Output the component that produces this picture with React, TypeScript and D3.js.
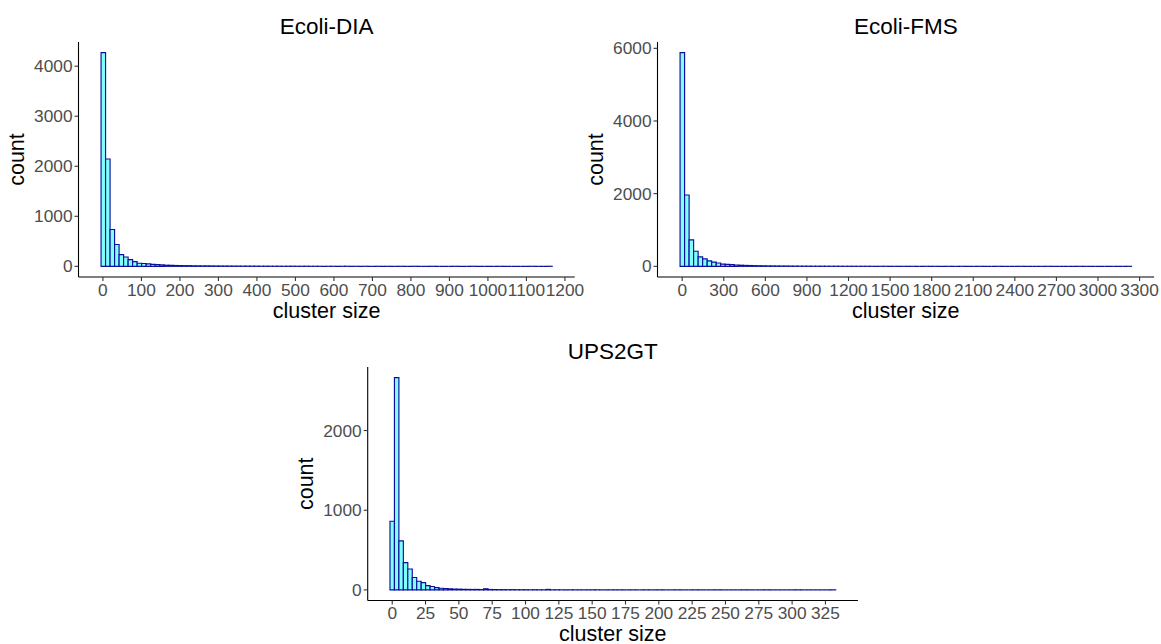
import React from "react";
import * as d3 from "d3";

// Histogram counts, 100 bins each (ggplot bins = 100)
const diaCounts = [
  4270, 2145, 735, 437, 235, 187, 135, 95, 62, 57,
  50, 40, 35, 28, 22, 20, 17, 15, 13, 12,
  10, 9, 8, 8, 7, 6, 6, 5, 5, 4,
  4, 3, 4, 3, 3, 2, 3, 2, 2, 2,
  1, 2, 2, 1, 1, 2, 1, 1, 1, 0,
  1, 1, 0, 1, 1, 0, 1, 0, 1, 0,
  0, 1, 0, 1, 0, 0, 1, 0, 0, 1,
  0, 0, 0, 1, 0, 0, 0, 0, 1, 0,
  0, 0, 1, 0, 0, 0, 0, 0, 1, 0,
  0, 0, 0, 0, 0, 1, 0, 0, 0, 1,
];
const fmsCounts = [
  5880, 1963, 726, 415, 260, 205, 150, 115, 90, 62,
  55, 45, 35, 30, 25, 22, 18, 15, 13, 11,
  10, 9, 8, 7, 6, 5, 5, 4, 4, 3,
  3, 3, 2, 2, 2, 2, 1, 2, 1, 1,
  1, 1, 1, 0, 1, 1, 0, 1, 0, 1,
  0, 1, 0, 0, 1, 0, 1, 0, 0, 1,
  0, 0, 1, 0, 0, 0, 1, 0, 0, 0,
  1, 0, 0, 0, 0, 1, 0, 0, 0, 0,
  0, 1, 0, 0, 0, 0, 0, 0, 1, 0,
  0, 0, 0, 0, 0, 0, 0, 0, 0, 1,
];
const upsCounts = [
  862, 2664, 615, 343, 262, 155, 109, 92, 54, 42,
  29, 21, 17, 13, 10, 9, 7, 6, 5, 6,
  4, 14, 5, 4, 3, 3, 2, 3, 2, 2,
  2, 1, 2, 1, 1, 6, 1, 1, 1, 0,
  1, 1, 0, 1, 0, 1, 1, 0, 0, 1,
  0, 1, 0, 0, 1, 0, 0, 1, 0, 0,
  1, 0, 0, 0, 1, 0, 0, 0, 1, 0,
  0, 0, 0, 1, 0, 0, 0, 0, 0, 1,
  0, 0, 0, 0, 1, 0, 0, 0, 0, 0,
  0, 1, 0, 0, 0, 0, 0, 0, 0, 1,
];

// data min / max of cluster sizes
const diaRange = [1, 1161];
const fmsRange = [1, 3226];
const upsRange = [0, 331];

const diaXTicks = [0, 100, 200, 300, 400, 500, 600, 700, 800, 900, 1000, 1100, 1200];
const fmsXTicks = [0, 300, 600, 900, 1200, 1500, 1800, 2100, 2400, 2700, 3000, 3300];
const upsXTicks = [0, 25, 50, 75, 100, 125, 150, 175, 200, 225, 250, 275, 300, 325];
const diaYTicks = [0, 1000, 2000, 3000, 4000];
const fmsYTicks = [0, 2000, 4000, 6000];
const upsYTicks = [0, 1000, 2000];

const FONT = "'Liberation Sans', Arial, sans-serif";
const FILL = "#80FFFF";
const STROKE = "#0E0E9C";

type PanelProps = {
  title: string;
  counts: number[];
  range: number[];
  xTicks: number[];
  yTicks: number[];
  left: number;
  top: number;
  bottom: number;
  pxPerUnit: number;
};

function Panel({ title, counts, range, xTicks, yTicks, left, top, bottom, pxPerUnit }: PanelProps) {
  const n = counts.length;
  const bw = (range[1] - range[0]) / (n - 1);
  const lo = range[0] - bw / 2;
  const hi = lo + n * bw;
  const span = hi - lo;
  const xd: [number, number] = [lo - 0.05 * span, hi + 0.05 * span];
  const right = left + (xd[1] - xd[0]) * pxPerUnit;
  const x = d3.scaleLinear().domain(xd).range([left, right]);
  const ymax = d3.max(counts) as number;
  const y = d3.scaleLinear().domain([-0.05 * ymax, 1.05 * ymax]).range([bottom, top]);
  const cx = (left + right) / 2;
  const cy = (top + bottom) / 2;
  return (
    <g>
      <text x={cx} y={top - 8} textAnchor="middle" fontSize={22.5} fill="#000">{title}</text>
      {counts.map((c, i) => {
        const x0 = x(lo + i * bw);
        const x1 = x(lo + (i + 1) * bw);
        const y0 = y(0);
        const y1 = y(c);
        const p = d3.path();
        p.moveTo(x0, y0);
        p.lineTo(x0, y1);
        p.lineTo(x1, y1);
        p.lineTo(x1, y0);
        p.closePath();
        return (
          <path key={i} d={p.toString()} fill={FILL} stroke={STROKE} strokeWidth={1.15} />
        );
      })}
      <line x1={left} x2={left} y1={top} y2={bottom} stroke="#000" strokeWidth={1.1} />
      <line x1={left} x2={right} y1={bottom} y2={bottom} stroke="#000" strokeWidth={1.1} />
      {yTicks.map((t) => (
        <g key={"y" + t}>
          <line x1={left - 4} x2={left} y1={y(t)} y2={y(t)} stroke="#333" strokeWidth={1.1} />
          <text x={left - 6} y={y(t) + 6} textAnchor="end" fontSize={17.3} fill="#4D4D4D">{t}</text>
        </g>
      ))}
      {xTicks.map((t) => (
        <g key={"x" + t}>
          <line x1={x(t)} x2={x(t)} y1={bottom} y2={bottom + 4} stroke="#333" strokeWidth={1.1} />
          <text x={x(t)} y={bottom + 18.5} textAnchor="middle" fontSize={17.3} fill="#4D4D4D">{t}</text>
        </g>
      ))}
      <text x={cx} y={bottom + 40.5} textAnchor="middle" fontSize={21.5} fill="#000">cluster size</text>
      <text transform={`translate(${left - 54.5},${cy}) rotate(-90)`} textAnchor="middle" fontSize={21.5} fill="#000">count</text>
    </g>
  );
}

export default function App() {
  return (
    <svg width={1161} height={644} style={{ position: "absolute", left: 0, top: 0, fontFamily: FONT, background: "#fff" }}>
      <rect width={1161} height={644} fill="#fff" />
      <Panel title="Ecoli-DIA" counts={diaCounts} range={diaRange} xTicks={diaXTicks} yTicks={diaYTicks}
        left={78.5} top={42} bottom={277} pxPerUnit={0.385} />
      <Panel title="Ecoli-FMS" counts={fmsCounts} range={fmsRange} xTicks={fmsXTicks} yTicks={fmsYTicks}
        left={657.5} top={42} bottom={277} pxPerUnit={0.1386} />
      <Panel title="UPS2GT" counts={upsCounts} range={upsRange} xTicks={upsXTicks} yTicks={upsYTicks}
        left={367.7} top={367} bottom={600.5} pxPerUnit={1.333} />
    </svg>
  );
}
